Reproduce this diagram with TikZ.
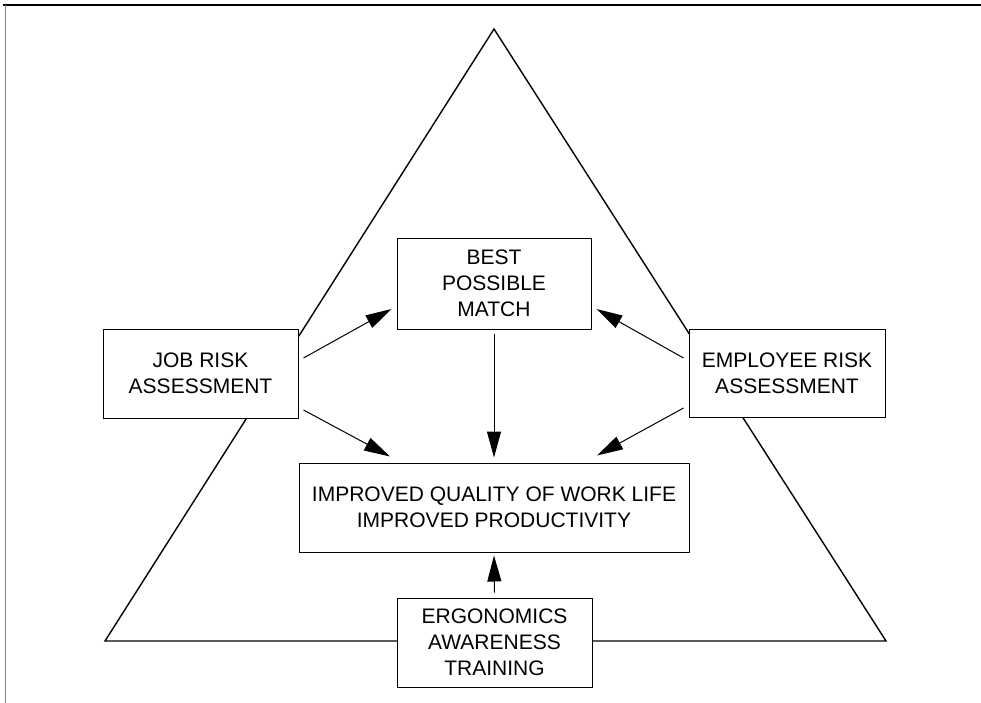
\documentclass[tikz,border=0pt]{standalone}
\usepackage{fontspec}
\setmainfont{Liberation Sans}
\usetikzlibrary{arrows.meta}
\begin{document}
\begin{tikzpicture}[x=1pt,y=-1pt,
  box/.style={draw=black, line width=1pt, fill=white, align=center, inner sep=0pt,
    font=\fontsize{21}{26}\selectfont},
  conn/.style={line width=1pt, -{Triangle[length=26pt,width=14pt]}},
  tri/.style={line width=1.4pt, line join=miter}]
\useasboundingbox (0,0) rectangle (981,703);
\draw[line width=1.5pt] (3,5) -- (981,5);
\draw[line width=0.6pt, gray] (5,5) -- (5,703);
\draw[tri] (494,29) -- (105,641) -- (886,641) -- cycle;
\node[box, minimum width=194pt, minimum height=91pt] (best) at (494,283.5) {BEST\\POSSIBLE\\MATCH};
\node[box, minimum width=195pt, minimum height=89pt] (job) at (200.5,373.5) {JOB RISK\\ASSESSMENT};
\node[box, minimum width=196pt, minimum height=88pt] (emp) at (787,373) {EMPLOYEE RISK\\ASSESSMENT};
\node[box, minimum width=390pt, minimum height=89pt] (imp) at (494,507.5) {IMPROVED QUALITY OF WORK LIFE\\IMPROVED PRODUCTIVITY};
\node[box, minimum width=195pt, minimum height=89pt] (ergo) at (494.5,642.5) {ERGONOMICS\\AWARENESS\\TRAINING};
\draw[conn] ([shift={(5,-15.5)}]job.east) -- ([shift={(-5,25.5)}]best.west);
\draw[conn] ([shift={(5,36.5)}]job.east) -- ([shift={(-104,-6)}]imp.north);
\draw[conn] ([shift={(-5,-15)}]emp.west) -- ([shift={(5,25.5)}]best.east);
\draw[conn] ([shift={(-5,35)}]emp.west) -- ([shift={(103,-7)}]imp.north);
\draw[conn] ([shift={(0,4)}]best.south) -- ([shift={(0,-5)}]imp.north);
\draw[conn] ([shift={(0,-5)}]ergo.north) -- ([shift={(0,3)}]imp.south);
\end{tikzpicture}
\end{document}
